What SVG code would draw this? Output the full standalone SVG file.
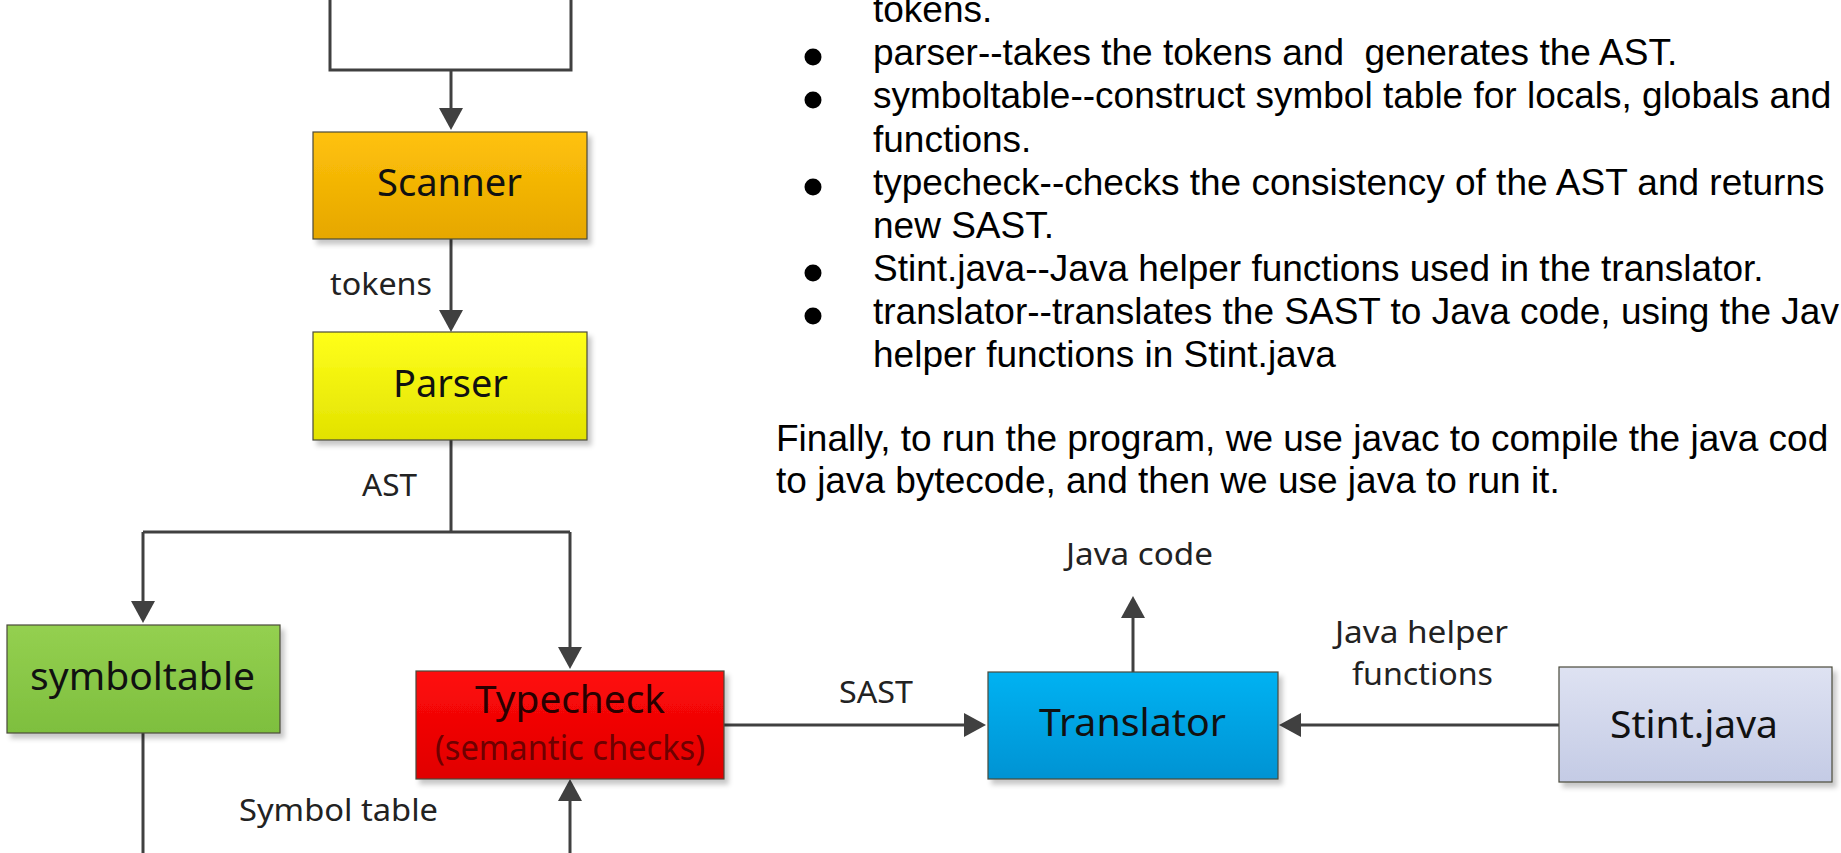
<svg xmlns="http://www.w3.org/2000/svg" width="1841" height="853" viewBox="0 0 1841 853">
<style>
.box{stroke:#4a4a3a;stroke-width:1.2;filter:url(#sh)}
.bt{font-family:"Noto Sans","Open Sans",sans-serif;font-size:38px;fill:#111}
.lb{font-family:"Noto Sans","Open Sans",sans-serif;font-size:30px;fill:#222}
.tx{font-family:"Liberation Sans",Arial,sans-serif;font-size:37px;fill:#000}
.cn{fill:none;stroke:#404040;stroke-width:3}
.ar{marker-end:url(#ah)}
.bul{fill:#000}
</style>
<defs>
<marker id="ah" markerUnits="userSpaceOnUse" markerWidth="22" markerHeight="24" viewBox="0 0 22 24" refX="12" refY="12" orient="auto">
<path d="M0,0 L22,12 L0,24 Z" fill="#404040"/>
</marker>
<filter id="sh" x="-10%" y="-10%" width="130%" height="140%">
<feDropShadow dx="4" dy="5" stdDeviation="2.5" flood-color="#000" flood-opacity="0.22"/>
</filter>
<linearGradient id="gOr" x1="0" y1="0" x2="0" y2="1"><stop offset="0" stop-color="#FFC20A"/><stop offset="1" stop-color="#E6A700"/></linearGradient>
<linearGradient id="gYe" x1="0" y1="0" x2="0" y2="1"><stop offset="0" stop-color="#FFFF1A"/><stop offset="1" stop-color="#E2E200"/></linearGradient>
<linearGradient id="gGr" x1="0" y1="0" x2="0" y2="1"><stop offset="0" stop-color="#94D050"/><stop offset="1" stop-color="#7EBF3E"/></linearGradient>
<linearGradient id="gRe" x1="0" y1="0" x2="0" y2="1"><stop offset="0" stop-color="#FF0A0A"/><stop offset="1" stop-color="#E00000"/></linearGradient>
<linearGradient id="gBl" x1="0" y1="0" x2="0" y2="1"><stop offset="0" stop-color="#05B2F2"/><stop offset="1" stop-color="#0093D3"/></linearGradient>
<linearGradient id="gLv" x1="0" y1="0" x2="0" y2="1"><stop offset="0" stop-color="#DEE2F2"/><stop offset="1" stop-color="#C4CBE5"/></linearGradient>
</defs>
<rect width="1841" height="853" fill="#fff"/>

<g id="connectors">
<path class="cn" d="M330,0 V70 H571 V0"/>
<path class="cn ar" d="M451,70 V120"/>
<path class="cn ar" d="M451,239 V322"/>
<path class="cn" d="M451,440 V532 M143,532 H570"/>
<path class="cn ar" d="M143,532 V613"/>
<path class="cn ar" d="M570,532 V659"/>
<path class="cn" d="M143,733 V853"/>
<path class="cn ar" d="M570,853 V789"/>
<path class="cn ar" d="M724,725 H976"/>
<path class="cn ar" d="M1133,672 V606"/>
<path class="cn ar" d="M1559,725 H1289"/>
<text class="lb" x="330" y="295" textLength="102" lengthAdjust="spacingAndGlyphs">tokens</text>
<text class="lb" x="362" y="496" textLength="55" lengthAdjust="spacingAndGlyphs">AST</text>
<text class="lb" x="839" y="703" textLength="74" lengthAdjust="spacingAndGlyphs">SAST</text>
<text class="lb" x="1066" y="565" textLength="147" lengthAdjust="spacingAndGlyphs">Java code</text>
<text class="lb" x="1335" y="643" textLength="173" lengthAdjust="spacingAndGlyphs">Java helper</text>
<text class="lb" x="1352" y="685" textLength="141" lengthAdjust="spacingAndGlyphs">functions</text>
<text class="lb" x="239" y="821" textLength="199" lengthAdjust="spacingAndGlyphs">Symbol table</text>
</g>

<g id="scanner">
<rect class="box" x="313" y="132" width="274" height="107" fill="url(#gOr)"/>
<text class="bt" x="377" y="196" textLength="145" lengthAdjust="spacingAndGlyphs">Scanner</text>
</g>
<g id="parser">
<rect class="box" x="313" y="332" width="274" height="108" fill="url(#gYe)"/>
<text class="bt" x="393" y="397" textLength="115" lengthAdjust="spacingAndGlyphs">Parser</text>
</g>
<g id="symboltable">
<rect class="box" x="7" y="625" width="273" height="108" fill="url(#gGr)"/>
<text class="bt" x="30" y="690" textLength="225" lengthAdjust="spacingAndGlyphs">symboltable</text>
</g>
<g id="typecheck">
<rect class="box" x="416" y="671" width="308" height="108" fill="url(#gRe)"/>
<text class="bt" x="475" y="713" textLength="190" lengthAdjust="spacingAndGlyphs" fill="#2a0000" style="fill:#2a0000">Typecheck</text>
<text class="bt" x="435" y="760" textLength="270" lengthAdjust="spacingAndGlyphs" style="fill:#6e0000;font-size:34px">(semantic checks)</text>
</g>
<g id="translator">
<rect class="box" x="988" y="672" width="290" height="107" fill="url(#gBl)"/>
<text class="bt" x="1039" y="736" textLength="187" lengthAdjust="spacingAndGlyphs">Translator</text>
</g>
<g id="stint">
<rect class="box" x="1559" y="667" width="273" height="115" fill="url(#gLv)"/>
<text class="bt" x="1610" y="738" textLength="168" lengthAdjust="spacingAndGlyphs">Stint.java</text>
</g>

<g id="description">
<text class="tx" x="873" y="22">tokens.</text>
<circle class="bul" cx="813" cy="57" r="8.5"/>
<text class="tx" x="873" y="65" xml:space="preserve">parser--takes the tokens and  generates the AST.</text>
<circle class="bul" cx="813" cy="100" r="8.5"/>
<text class="tx" x="873" y="108">symboltable--construct symbol table for locals, globals and</text>
<text class="tx" x="873" y="152">functions.</text>
<circle class="bul" cx="813" cy="187" r="8.5"/>
<text class="tx" x="873" y="195">typecheck--checks the consistency of the AST and returns</text>
<text class="tx" x="873" y="238">new SAST.</text>
<circle class="bul" cx="813" cy="273" r="8.5"/>
<text class="tx" x="873" y="281">Stint.java--Java helper functions used in the translator.</text>
<circle class="bul" cx="813" cy="316" r="8.5"/>
<text class="tx" x="873" y="324">translator--translates the SAST to Java code, using the Jav</text>
<text class="tx" x="873" y="367">helper functions in Stint.java</text>
<text class="tx" x="776" y="451">Finally, to run the program, we use javac to compile the java cod</text>
<text class="tx" x="776" y="493">to java bytecode, and then we use java to run it.</text>
</g>
</svg>
